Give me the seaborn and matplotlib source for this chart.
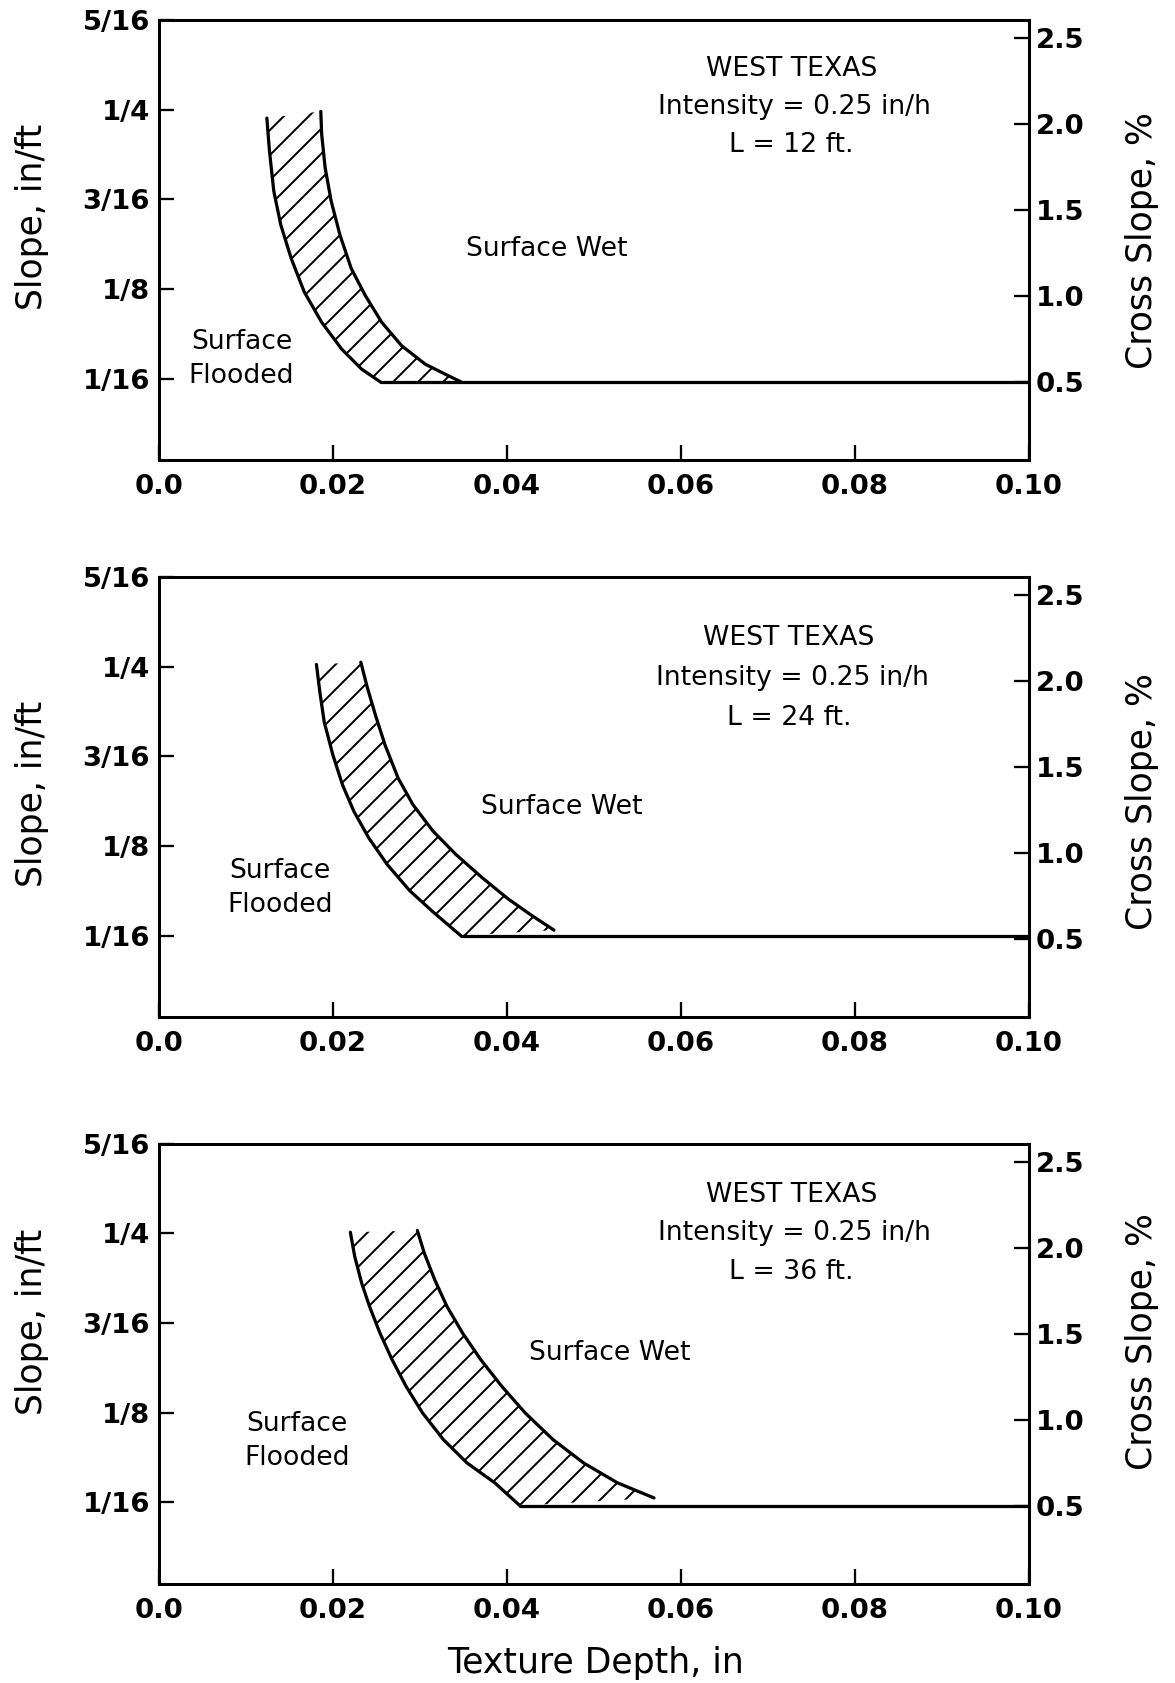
import numpy as np
import matplotlib
matplotlib.use("Agg")
from matplotlib import pyplot as plt
import seaborn as sns

# values (texture depth in inches, slope in in/ft)
lengths = ["12", "24", "36"]

left_x_12 = [0.0124, 0.0127, 0.0132, 0.0140, 0.0152, 0.0167, 0.0187, 0.0210, 0.0233, 0.0255]
left_y_12 = [0.2441, 0.2212, 0.1931, 0.1697, 0.1463, 0.1229, 0.1018, 0.0831, 0.0691, 0.0600]
right_x_12 = [0.0186, 0.0187, 0.0191, 0.0198, 0.0208, 0.0221, 0.0237, 0.0256, 0.0279, 0.0306, 0.0333, 0.0348]
right_y_12 = [0.2488, 0.2329, 0.2095, 0.1861, 0.1627, 0.1393, 0.1206, 0.1018, 0.0854, 0.0726, 0.0644, 0.0600]

left_x_24 = [0.0181, 0.0185, 0.0190, 0.0200, 0.0211, 0.0224, 0.0241, 0.0262, 0.0288, 0.0315, 0.0347]
left_y_24 = [0.2516, 0.2320, 0.2113, 0.1883, 0.1676, 0.1492, 0.1308, 0.1124, 0.0940, 0.0791, 0.0625]
right_x_24 = [0.0232, 0.0239, 0.0249, 0.0260, 0.0275, 0.0292, 0.0315, 0.0341, 0.0371, 0.0401, 0.0428, 0.0454]
right_y_24 = [0.2532, 0.2366, 0.2159, 0.1952, 0.1722, 0.1538, 0.1354, 0.1193, 0.1032, 0.0883, 0.0768, 0.0664]

left_x_36 = [0.0220, 0.0225, 0.0233, 0.0242, 0.0254, 0.0268, 0.0284, 0.0303, 0.0327, 0.0354, 0.0386, 0.0415]
left_y_36 = [0.2507, 0.2338, 0.2152, 0.1990, 0.1804, 0.1618, 0.1433, 0.1247, 0.1061, 0.0899, 0.0760, 0.0600]
right_x_36 = [0.0297, 0.0305, 0.0317, 0.0331, 0.0349, 0.0370, 0.0394, 0.0421, 0.0453, 0.0488, 0.0527, 0.0569]
right_y_36 = [0.2519, 0.2361, 0.2175, 0.1990, 0.1804, 0.1618, 0.1433, 0.1247, 0.1061, 0.0899, 0.0760, 0.0655]

left_x = [left_x_12, left_x_24, left_x_36]
left_y = [left_y_12, left_y_24, left_y_36]
right_x = [right_x_12, right_x_24, right_x_36]
right_y = [right_y_12, right_y_24, right_y_36]
base_y = [0.060, 0.0625, 0.060]
base_end = 0.10

x_ticks = [0.0, 0.02, 0.04, 0.06, 0.08, 0.10]
x_labels = ["0.0", "0.02", "0.04", "0.06", "0.08", "0.10"]
y_ticks = [1 / 16, 1 / 8, 3 / 16, 1 / 4, 5 / 16]
y_labels = ["1/16", "1/8", "3/16", "1/4", "5/16"]
pct_ticks = [0.5, 1.0, 1.5, 2.0, 2.5]

# annotation anchors in data coordinates
title_x = [0.0727, 0.0724, 0.0727]
title_y = [0.2783, 0.2701, 0.2768]
intensity_y = [0.2520, 0.2419, 0.2499]
length_y = [0.2256, 0.2145, 0.2230]
wet_xy = [(0.0446, 0.1532), (0.0463, 0.1523), (0.0518, 0.1663)]
flood_xy = [(0.0095, 0.0765), (0.0139, 0.0957), (0.0159, 0.1051)]
left_label_y = [0.552, 0.507, 0.594]
right_label_y = [0.498, 0.489, 0.551]

sns.set_style("ticks")
plt.rcParams['font.family'] = ['DejaVu Sans']
plt.rcParams['text.color'] = 'black'
plt.rcParams['axes.edgecolor'] = 'black'
plt.rcParams['xtick.color'] = 'black'
plt.rcParams['ytick.color'] = 'black'
plt.rcParams['axes.labelcolor'] = 'black'
plt.rcParams['hatch.linewidth'] = 0.95
plt.rcParams['hatch.color'] = 'black'

DPI = 150
fig = plt.figure(figsize=(1175 / DPI, 1683 / DPI), dpi=DPI)

bottoms = [0.7267, 0.3957, 0.0591]
TICK_FS = 13.2
LABEL_FS = 16.6
NOTE_FS = 12.8


def to_pct(s):
    return s / 12 * 100


def to_inft(p):
    return p * 12 / 100


for i in range(3):
    ax = fig.add_axes([0.1353, bottoms[i], 0.7404, 0.2614])

    # hatched transition band between the two boundary curves
    xs = np.concatenate([left_x[i], right_x[i][::-1]])
    ys = np.concatenate([left_y[i], right_y[i][::-1]])
    ax.fill(xs, ys, facecolor='none', edgecolor='black', hatch='//', linewidth=0)

    sns.lineplot(x=left_x[i], y=left_y[i], ax=ax, color='black', lw=1.55,
                 sort=False, estimator=None)
    sns.lineplot(x=right_x[i], y=right_y[i], ax=ax, color='black', lw=1.55,
                 sort=False, estimator=None)
    sns.lineplot(x=[left_x[i][-1], base_end], y=[base_y[i], base_y[i]], ax=ax,
                 color='black', lw=1.55, sort=False, estimator=None)

    ax.set_xlim(0, 0.10)
    ax.set_ylim(0.0058, 5 / 16)
    ax.set_xticks(x_ticks)
    ax.set_xticklabels(x_labels, fontweight='bold')
    ax.set_yticks(y_ticks)
    ax.set_yticklabels(y_labels, fontweight='bold')
    ax.tick_params(axis='x', direction='in', length=7.3, width=1.1, pad=6.8, labelsize=TICK_FS)
    ax.tick_params(axis='y', direction='in', length=7.3, width=1.1, pad=4.3, labelsize=TICK_FS)
    for sp in ax.spines.values():
        sp.set_linewidth(1.45)
        sp.set_visible(True)

    ax.set_ylabel("Slope, in/ft", fontsize=LABEL_FS)
    ax.yaxis.set_label_coords(-0.126, left_label_y[i])
    ax.set_xlabel("")

    sec = ax.secondary_yaxis('right', functions=(to_pct, to_inft))
    sec.set_yticks(pct_ticks)
    sec.set_yticklabels(["%.1f" % p for p in pct_ticks], fontweight='bold')
    sec.tick_params(axis='y', direction='in', length=7.3, width=1.1, pad=3.4, labelsize=TICK_FS)
    sec.spines['right'].set_linewidth(1.45)
    sec.set_ylabel("Cross Slope, %", fontsize=LABEL_FS)
    sec.yaxis.set_label_coords(1.11, right_label_y[i], transform=ax.transAxes)

    ax.text(title_x[i], title_y[i], "WEST TEXAS", ha='center', va='center', fontsize=NOTE_FS)
    ax.text(title_x[i] + 0.0004, intensity_y[i], "Intensity = 0.25 in/h",
            ha='center', va='center', fontsize=NOTE_FS)
    ax.text(title_x[i], length_y[i], "L = %s ft." % lengths[i],
            ha='center', va='center', fontsize=NOTE_FS)
    ax.text(wet_xy[i][0], wet_xy[i][1], "Surface Wet", ha='center', va='center', fontsize=NOTE_FS)
    ax.text(flood_xy[i][0], flood_xy[i][1], "Surface\nFlooded", ha='center', va='center',
            fontsize=NOTE_FS, linespacing=1.4)

fig.text(0.5068, 0.0119, "Texture Depth, in", ha='center', va='center', fontsize=LABEL_FS)

fig.savefig("out.png", dpi=DPI)
